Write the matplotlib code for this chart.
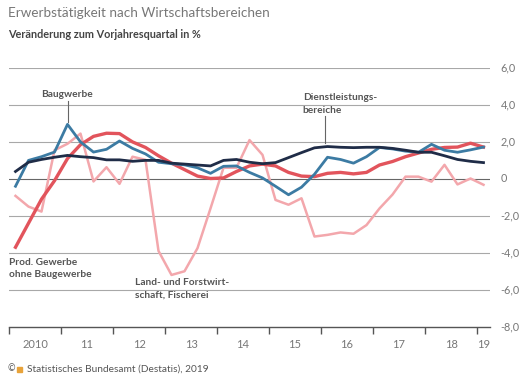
import matplotlib
matplotlib.use('Agg')
import matplotlib.pyplot as plt
import matplotlib.patches as mpatches
import numpy as np

# Quartale 2010 Q1 .. 2019 Q1
year_labels = ['2010', '11', '12', '13', '14', '15', '16', '17', '18', '19']

# Dienstleistungsbereiche
dienst = [0.4, 0.9, 1.05, 1.17, 1.27, 1.2, 1.15, 1.03, 1.03, 0.95, 1.0, 1.0, 0.85,
          0.8, 0.75, 0.7, 1.0, 1.05, 0.9, 0.82, 0.88, 1.15, 1.42, 1.68, 1.75,
          1.71, 1.69, 1.71, 1.71, 1.65, 1.55, 1.44, 1.44, 1.25, 1.05, 0.95, 0.88]

# Baugewerbe
bau = [-0.4, 1.0, 1.2, 1.45, 2.95, 2.0, 1.45, 1.6, 2.05, 1.65, 1.35, 0.9, 0.82,
       0.76, 0.6, 0.3, 0.68, 0.7, 0.35, 0.05, -0.4, -0.86, -0.45, 0.25, 1.17,
       1.05, 0.85, 1.2, 1.7, 1.62, 1.5, 1.44, 1.87, 1.55, 1.44, 1.57, 1.72]

# Prod. Gewerbe ohne Baugewerbe
prod = [-3.7, -2.4, -1.1, -0.1, 1.1, 1.85, 2.3, 2.47, 2.45, 2.0, 1.7, 1.25, 0.85,
        0.5, 0.15, 0.02, 0.05, 0.4, 0.7, 0.8, 0.7, 0.35, 0.15, 0.12, 0.3,
        0.35, 0.27, 0.35, 0.75, 0.94, 1.2, 1.4, 1.6, 1.7, 1.72, 1.93, 1.72]

# Land- und Forstwirtschaft, Fischerei
land = [-0.92, -1.5, -1.77, 1.55, 1.9, 2.45, -0.14, 0.63, -0.27, 1.2, 1.03, -3.9, -5.2,
        -5.0, -3.75, -1.6, 0.6, 0.6, 2.1, 1.3, -1.14, -1.4, -1.05, -3.12, -3.03,
        -2.9, -2.97, -2.5, -1.6, -0.85, 0.12, 0.12, -0.15, 0.76, -0.3, 0.02, -0.32]

y_ticks = [6, 4, 2, 0, -2, -4, -6, -8]
y_tick_labels = ['6,0', '4,0', '2,0', '0', '-2,0', '-4,0', '-6,0', '-8,0']

FONT = 'Lato'
GRAY = '#777777'
LABEL = '#555555'

fig = plt.figure(figsize=(5.25, 3.89), dpi=100)
ax = fig.add_axes([9 / 525, 1 - 326.7 / 389, 481 / 525, (326.7 - 68) / 389])

x = np.arange(len(dienst)) + 0.5

ax.plot(x, land, color='#f3a7ac', lw=1.8, zorder=3)
ax.plot(x, prod, color='#e2545c', lw=2.4, zorder=4)
ax.plot(x, bau, color='#3c7ba3', lw=2.0, zorder=5)
ax.plot(x, dienst, color='#1f2c47', lw=2.0, zorder=6)

ax.set_xlim(0, 37)
ax.set_ylim(-8, 6)

# horizontal grid
for yv in y_ticks:
    if yv == -8:
        continue
    ax.axhline(yv, color='#666666' if yv == 0 else '#a8a8a8', lw=0.8, zorder=1)

for s in ['top', 'left', 'right']:
    ax.spines[s].set_visible(False)
ax.spines['bottom'].set_color('#555555')
ax.spines['bottom'].set_linewidth(1.0)

ax.set_yticks([])
ax.set_xticks(np.arange(0, 37, 4))
ax.set_xticklabels([])
ax.tick_params(axis='x', direction='out', length=5, width=1, color='#555555')

# year labels centred in each year
for k, lab in enumerate(year_labels):
    xc = k * 4 + 2 if k < 9 else 36.5
    ax.text(xc, -8.95, lab, ha='center', va='center', fontsize=8,
            color=GRAY, family=FONT)

# right axis labels
for yv, lab in zip(y_ticks, y_tick_labels):
    ax.text(37.8, yv, lab, ha='left', va='center', fontsize=7.8,
            color=GRAY, family=FONT, clip_on=False)

# annotations
ax.plot([4.5, 4.5], [3.08, 4.2], color='#666666', lw=0.8)
ax.text(4.5, 4.55, 'Baugwerbe', ha='center', va='center', fontsize=7.3,
        color=LABEL, family=FONT, fontweight='bold')

ax.plot([24.3, 24.3], [1.95, 3.4], color='#666666', lw=0.8)
ax.text(22.6, 4.4, 'Dienstleistungs-', ha='left', va='center', fontsize=7.3,
        color=LABEL, family=FONT, fontweight='bold')
ax.text(22.6, 3.7, 'bereiche', ha='left', va='center', fontsize=7.3,
        color=LABEL, family=FONT, fontweight='bold')

ax.text(0.0, -4.5, 'Prod. Gewerbe', ha='left', va='center', fontsize=7.3,
        color=LABEL, family=FONT, fontweight='bold')
ax.text(0.0, -5.2, 'ohne Baugewerbe', ha='left', va='center', fontsize=7.3,
        color=LABEL, family=FONT, fontweight='bold')

ax.text(9.7, -5.6, 'Land- und Forstwirt-', ha='left', va='center', fontsize=7.3,
        color=LABEL, family=FONT, fontweight='bold')
ax.text(9.7, -6.3, 'schaft, Fischerei', ha='left', va='center', fontsize=7.3,
        color=LABEL, family=FONT, fontweight='bold')

# titles
fig.text(8 / 525, 1 - 13 / 389, 'Erwerbstätigkeit nach Wirtschaftsbereichen',
         ha='left', va='center', fontsize=9.7, color='#777777', family=FONT)
fig.text(8 / 525, 1 - 34 / 389, 'Veränderung zum Vorjahresquartal in %',
         ha='left', va='center', fontsize=7.8, color='#444444', family=FONT,
         fontweight='bold')

# source line
fig.text(8 / 525, 1 - 369 / 389, '©', ha='left', va='center', fontsize=6.5,
         color=LABEL, family=FONT)
fig.patches.append(mpatches.Rectangle((17 / 525, 1 - 372 / 389), 5 / 525, 5 / 389,
                                      transform=fig.transFigure, color='#e8a33a'))
fig.text(27 / 525, 1 - 369 / 389, 'Statistisches Bundesamt (Destatis), 2019',
         ha='left', va='center', fontsize=7.3, color=LABEL, family=FONT)

fig.savefig('out.png', dpi=100)
